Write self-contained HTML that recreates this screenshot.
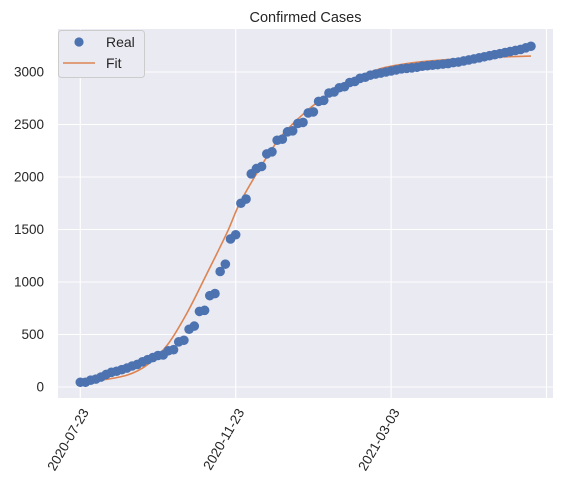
<!DOCTYPE html>
<html><head><meta charset="utf-8"><style>
html,body{margin:0;padding:0;background:#fff;}
svg{display:block;font-family:"Liberation Sans","DejaVu Sans",sans-serif;}
</style></head><body>
<svg width="563" height="497" viewBox="0 0 563 497">
<rect x="58" y="29" width="495" height="369" fill="#eaeaf2"/>
<g id="grid"></g>
<g id="fit"></g>
<g id="pts"></g>
<g id="axes"></g>
<text x="305.5" y="22" text-anchor="middle" font-size="14.5" fill="#262626">Confirmed Cases</text>
<g>
<rect x="58.5" y="30.5" width="86" height="47" rx="3" fill="#eaeaf2" stroke="#cccccc"/>
<circle cx="79" cy="42" r="4.6" fill="#4c72b0"/>
<text x="106" y="47" font-size="14" fill="#262626">Real</text>
<line x1="63" y1="63" x2="95" y2="63" stroke="#dd8452" stroke-width="1.6"/>
<text x="106" y="68" font-size="14" fill="#262626">Fit</text>
</g>
</svg>
<script>
const realValues=[45,45,65,75,95,120,140,150,165,180,200,215,240,260,280,300,305,345,355,430,445,550,580,720,730,870,890,1100,1170,1410,1450,1750,1790,2030,2080,2100,2220,2240,2350,2360,2430,2440,2510,2520,2610,2620,2720,2730,2800,2810,2850,2860,2900,2910,2940,2950,2970,2980,2990,3000,3010,3020,3030,3035,3040,3045,3055,3060,3065,3070,3075,3080,3090,3095,3105,3115,3125,3135,3145,3155,3165,3175,3185,3195,3205,3215,3230,3245];
const fitIndex=[0,4,9.1,12.9,16.8,20.6,24.5,28.3,30.8,34.7,38.5,42.4,46.3,50.1,54,57.8,61.7,67.5,75.2,87];
const fitValues=[48,65,114,210,400,705,1086,1467,1752,2086,2371,2571,2733,2857,2960,3030,3070,3105,3132,3152];
const yTicks=[0,500,1000,1500,2000,2500,3000];
const xTickIndex=[0,30,60,90];
const xTickLabels=["2020-07-23","2020-11-23","2021-03-03",""];
const NS="http://www.w3.org/2000/svg";
function xs(i){return 80.3+i*(155.4/30);}
function ys(v){return 387-v*0.105;}
function mk(tag,attrs,parent){const e=document.createElementNS(NS,tag);for(const k in attrs)e.setAttribute(k,attrs[k]);parent.appendChild(e);return e;}
const grid=document.getElementById('grid'),axes=document.getElementById('axes');
yTicks.forEach(v=>{
 const l=mk('line',{x1:58,x2:553,y1:ys(v),y2:ys(v),stroke:'#fff','stroke-width':1.1},grid);
 
 
 const t=mk('text',{x:44,y:ys(v)+4.5,'text-anchor':'end','font-size':13.5,fill:'#262626'},axes);
 t.textContent=v;
 
 
});
xTickIndex.forEach((i,k)=>{
 const x=xs(i);
 const l=mk('line',{x1:x,x2:x,y1:29,y2:398,stroke:'#fff','stroke-width':1.1},grid);
 
 
 if(xTickLabels[k]){
  const t=mk('text',{'text-anchor':'end','font-size':13.5,fill:'#262626',transform:`translate(${x+9},${412}) rotate(-60)`},axes);
  t.textContent=xTickLabels[k];
  
  
 }
});
const pts=document.getElementById('pts');
realValues.forEach((v,i)=>{
 const c=mk('circle',{cx:xs(i),cy:ys(v),r:4.8,fill:'#4c72b0'},pts);
 
 
});
const P=fitIndex.map((i,k)=>[xs(i),ys(fitValues[k])]);
let d='M'+P[0][0]+','+P[0][1];
for(let k=0;k<P.length-1;k++){
 const p0=P[Math.max(k-1,0)],p1=P[k],p2=P[k+1],p3=P[Math.min(k+2,P.length-1)];
 const c1=[p1[0]+(p2[0]-p0[0])/6,p1[1]+(p2[1]-p0[1])/6];
 const c2=[p2[0]-(p3[0]-p1[0])/6,p2[1]-(p3[1]-p1[1])/6];
 d+=` C${c1[0]},${c1[1]} ${c2[0]},${c2[1]} ${p2[0]},${p2[1]}`;
}
const p=mk('path',{d:d,fill:'none',stroke:'#dd8452','stroke-width':1.6},document.getElementById('fit'));


</script>
</body></html>
